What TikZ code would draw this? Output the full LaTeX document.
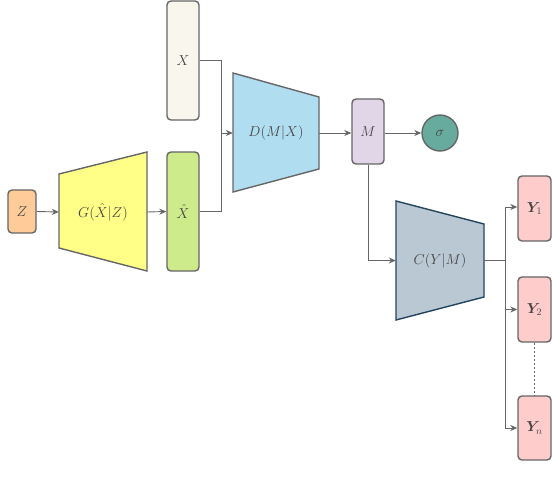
\documentclass[tikz,border=0pt]{standalone}
\usepackage{bm}
\usetikzlibrary{arrows.meta}
\definecolor{edge}{HTML}{666666}
\definecolor{txt}{HTML}{444444}
\definecolor{zfill}{HTML}{FFCC99}
\definecolor{gfill}{HTML}{FFFF88}
\definecolor{xhfill}{HTML}{CDEB8B}
\definecolor{xfill}{HTML}{F9F7ED}
\definecolor{dfill}{HTML}{B1DDF0}
\definecolor{mfill}{HTML}{E1D5E7}
\definecolor{sfill}{HTML}{67AB9F}
\definecolor{cfill}{HTML}{BAC8D3}
\definecolor{cedge}{HTML}{23445D}
\definecolor{yfill}{HTML}{FFCCCC}
\begin{document}
\begin{tikzpicture}[x=1pt,y=-1pt,
  every node/.style={text=txt,font=\fontsize{14}{16}\selectfont,inner sep=0pt},
  box/.style={draw=edge,line width=1.4pt,rounded corners=4pt},
  trap/.style={line width=1.4pt},
  conn/.style={draw=edge,line width=0.9pt},
  arr/.style={conn,-{Stealth[length=7pt,width=6pt]}}]
\useasboundingbox (0,0) rectangle (552,484);
% boxes
\node[box,fill=zfill,minimum width=28pt,minimum height=43pt] (z) at (22,211.5) {$Z$};
\node[box,fill=xhfill,minimum width=32pt,minimum height=119pt] (xh) at (183,211.5) {$\hat{X}$};
\node[box,fill=xfill,minimum width=32pt,minimum height=119pt] (x) at (183,60.5) {$X$};
\node[box,fill=mfill,minimum width=32pt,minimum height=65pt] (m) at (368,131.5) {$M$};
\node[circle,draw=edge,line width=1.4pt,fill=sfill,minimum size=36pt] (s) at (440,133) {$\sigma$};
\node[box,fill=yfill,minimum width=33pt,minimum height=65pt] (y1) at (534.5,208.5) {$\bm{Y}_1$};
\node[box,fill=yfill,minimum width=33pt,minimum height=65pt] (y2) at (534.5,309.5) {$\bm{Y}_2$};
\node[box,fill=yfill,minimum width=33pt,minimum height=64pt] (yn) at (534.5,428) {$\bm{Y}_n$};
% trapezoids
\draw[trap,draw=edge,fill=gfill] (59,174) -- (147,152) -- (147,271) -- (59,248) -- cycle;
\node[minimum width=88pt,minimum height=74pt] (g) at (103,212) {$G(\hat{X}|Z)$};
\draw[trap,draw=edge,fill=dfill] (233,73) -- (319,97) -- (319,169) -- (233,192) -- cycle;
\node[minimum width=86pt,minimum height=72pt] (d) at (276,133) {$D(M|X)$};
\draw[trap,draw=cedge,fill=cfill] (396,201) -- (484,224) -- (484,297) -- (396,320) -- cycle;
\node[minimum width=88pt,minimum height=73pt] (c) at (440,260.5) {$C(Y|M)$};
% junctions
\coordinate (j1) at (221.5,133);
\coordinate (j2) at (505,260.5);
% connectors
\draw[arr] (z.east) -- (g.west);
\draw[arr] (g.east) -- (xh.west);
\draw[conn] (x.east) -| (j1);
\draw[arr] (xh.east) -| (j1) -- (d.west);
\draw[arr] (d.east) -- (m.west|-d.east);
\draw[arr] (m.east|-s.west) -- (s.west);
\draw[arr] (m.south) |- (c.west);
\draw[draw=edge,line width=1.6pt] (c.east) -- (j2);
\draw[arr] (j2) |- ([yshift=1.5pt]y1.west);
\draw[arr] (j2) |- (y2.west);
\draw[arr] (j2) |- (yn.west);
\draw[conn,dashed,line width=0.6pt,dash pattern=on 2pt off 2pt] (y2.south) -- (yn.north);
\end{tikzpicture}
\end{document}
